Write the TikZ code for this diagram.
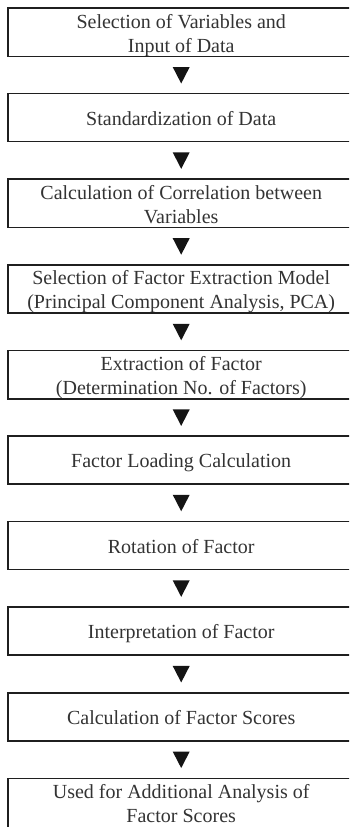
\documentclass[tikz,border=0pt]{standalone}
\usepackage{fontspec}
\setmainfont{Liberation Serif}
\usetikzlibrary{calc}
\begin{document}
\begin{tikzpicture}[x=1pt,y=-1pt,
  stepbox/.style={rectangle, minimum width=346pt, minimum height=47.5pt,
    anchor=north west, align=center, inner sep=0pt, text=black!80,
    font=\fontsize{20}{24}\selectfont},
  frame/.style={draw=black!88, line width=1.6pt}]
\useasboundingbox (0,0) rectangle (349,827);
\clip (0,0) rectangle (349,827);
\node[stepbox] (b1) at (8,11) {\strut Selection of Variables and\\\strut Input of Data};
\node[stepbox] (b2) at (8,96.6) {\strut Standardization of Data};
\node[stepbox] (b3) at (8,182.2) {\strut Calculation of Correlation between\\\strut Variables};
\node[stepbox] (b4) at (8,267.8) {\strut Selection of Factor Extraction Model\\\strut (Principal Component Analysis, PCA)};
\node[stepbox] (b5) at (8,353.4) {\strut Extraction of Factor\\\strut (Determination No. of Factors)};
\node[stepbox] (b6) at (8,439) {\strut Factor Loading Calculation};
\node[stepbox] (b7) at (8,524.6) {\strut Rotation of Factor};
\node[stepbox] (b8) at (8,610.2) {\strut Interpretation of Factor};
\node[stepbox] (b9) at (8,695.8) {\strut Calculation of Factor Scores};
\node[stepbox] (b10) at (8,781.4) {\strut Used for Additional Analysis of\\\strut Factor Scores};
% frames (open on the right, where the picture is cut off)
\foreach \b in {b1,b2,b3,b4,b5,b6,b7,b8,b9}{
  \draw[frame] ($(\b.north east)+(20,-3)$) -- ($(\b.north west)+(0,-3)$)
     -- ($(\b.south west)+(0,-3)$) -- ($(\b.south east)+(20,-3)$);
}
\draw[frame] ($(b10.north east)+(20,-3)$) -- ($(b10.north west)+(0,-3)$)
     -- ($(b10.south west)+(0,20)$);
% arrowheads between consecutive steps
\foreach \a/\b in {b1/b2,b2/b3,b3/b4,b4/b5,b5/b6,b6/b7,b7/b8,b8/b9,b9/b10}{
  \path ($(\a.south)+(0,-3)$) -- ($(\b.north)+(0,-3)$) coordinate[midway] (m\a);
  \fill[black!92] ($(m\a)+(-8.5,-8)$) -- ($(m\a)+(8.5,-8)$) -- ($(m\a)+(0,8.5)$) -- cycle;
}
\end{tikzpicture}
\end{document}
